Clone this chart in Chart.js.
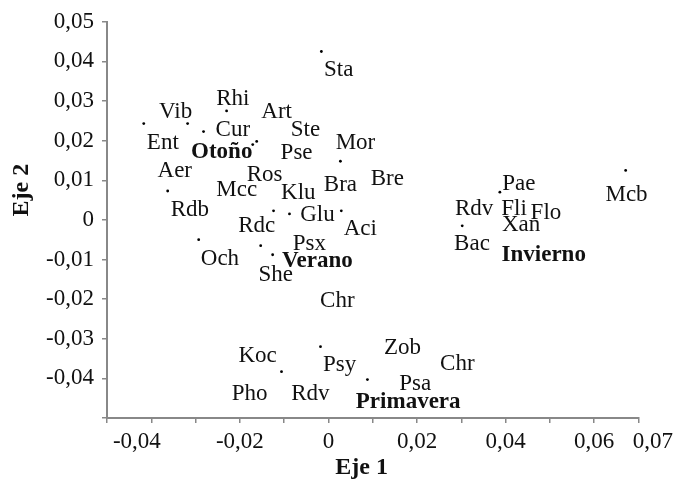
<!DOCTYPE html>
<html>
<head>
<meta charset="utf-8">
<script src="https://cdn.jsdelivr.net/npm/chart.js@4.4.1/dist/chart.umd.min.js"></script>
<style>
  html, body { margin: 0; padding: 0; background: #fff; }
</style>
</head>
<body>
<canvas id="chart" width="678" height="484"></canvas>
<script>
// Puntos (muestras)
const dotX = [-0.0417, -0.0318, -0.0282, -0.0230, -0.0171, -0.0162, -0.0016, -0.0363, -0.0124, -0.0088,
              -0.0293, -0.0153, -0.0126, -0.0018, -0.0106, 0.0027, 0.0029, 0.0387, 0.0302, 0.0671, 0.0088];
const dotY = [0.0243, 0.0243, 0.0223, 0.0275, 0.0190, 0.0198, 0.0425, 0.0073, 0.0023, 0.0015,
              -0.0050, -0.0065, -0.0088, -0.0320, -0.0383, 0.0148, 0.0023, 0.0070, -0.0015, 0.0125, -0.0403];

// Etiquetas (especies y estaciones)
const labelNames = ['Sta', 'Rhi', 'Vib', 'Art', 'Cur', 'Ste', 'Ent', 'Otoño', 'Pse', 'Mor',
                    'Aer', 'Ros', 'Bre', 'Bra', 'Mcc', 'Klu', 'Rdb', 'Glu', 'Rdc', 'Aci',
                    'Psx', 'Och', 'Verano', 'She', 'Chr', 'Mcb', 'Pae', 'Rdv', 'Fli', 'Flo',
                    'Xan', 'Bac', 'Invierno', 'Koc', 'Zob', 'Psy', 'Chr', 'Pho', 'Rdv', 'Psa', 'Primavera'];
const labelX = [0.0023, -0.0216, -0.0345, -0.0117, -0.0216, -0.0052, -0.0374, -0.0241, -0.0072, 0.0061,
                -0.0347, -0.0144, 0.0133, 0.0027, -0.0207, -0.0068, -0.0313, -0.0025, -0.0162, 0.0072,
                -0.0043, -0.0245, -0.0025, -0.0119, 0.0020, 0.0673, 0.0430, 0.0329, 0.0419, 0.0491,
                0.0435, 0.0324, 0.0486, -0.0160, 0.0167, 0.0025, 0.0291, -0.0178, -0.0041, 0.0196, 0.0180];
const labelY = [0.0378, 0.0305, 0.0273, 0.0273, 0.0228, 0.0228, 0.0195, 0.0170, 0.0168, 0.0193,
                0.0123, 0.0113, 0.0103, 0.0088, 0.0075, 0.0068, 0.0025, 0.0013, -0.0015, -0.0023,
                -0.0060, -0.0098, -0.0105, -0.0138, -0.0205, 0.0063, 0.0090, 0.0028, 0.0028, 0.0018,
                -0.0013, -0.0060, -0.0088, -0.0343, -0.0323, -0.0365, -0.0363, -0.0440, -0.0440, -0.0415, -0.0460];
const seasons = ['Otoño', 'Verano', 'Invierno', 'Primavera'];

// Ticks
const xTickLabels = [-0.04, -0.02, 0, 0.02, 0.04, 0.06, 0.07];
const yTickLabels = [-0.04, -0.03, -0.02, -0.01, 0, 0.01, 0.02, 0.03, 0.04, 0.05];

const serif = 'Liberation Serif';

function fmt(v) {
    return String(Math.round(v * 100) / 100).replace('.', ',');
}
function hasTick(list, v) {
    return list.some(t => Math.round(t * 100) === Math.round(v * 100));
}
// en el original la primera y la última etiqueta del eje X están desplazadas
function xLabel(v) {
    if (!hasTick(xTickLabels, v)) return '';
    const k = Math.round(v * 100);
    if (k === -4) return fmt(v) + '     ';
    if (k === 7) return '     ' + fmt(v);
    return fmt(v);
}

// Dibujar etiquetas y títulos de ejes
const labelsPlugin = {
    id: 'labels',
    afterDatasetsDraw(chart) {
        const c = chart.ctx;
        const xs = chart.scales.x, ys = chart.scales.y;
        c.save();
        c.fillStyle = '#111';
        c.textAlign = 'center';
        c.textBaseline = 'middle';
        labelNames.forEach((name, i) => {
            const bold = seasons.includes(name);
            c.font = (bold ? 'bold ' : '') + '23px "' + serif + '"';
            c.fillText(name, xs.getPixelForValue(labelX[i]), ys.getPixelForValue(labelY[i]));
        });
        // títulos
        c.font = 'bold 24px "' + serif + '"';
        c.fillText('Eje 1', xs.getPixelForValue(0.0075), 468);
        c.translate(22, ys.getPixelForValue(0.0075));
        c.rotate(-Math.PI / 2);
        c.fillText('Eje 2', 0, 0);
        c.restore();
    }
};

const axisColor = '#888';
const ctx = document.getElementById('chart').getContext('2d');
const chart = new Chart(ctx, {
    type: 'scatter',
    data: {
        datasets: [{
            data: dotX.map((x, i) => ({ x: x, y: dotY[i] })),
            pointRadius: 1.4,
            pointBackgroundColor: '#000',
            pointBorderWidth: 0
        }]
    },
    options: {
        responsive: false,
        animation: false,
        layout: { padding: { top: 18, right: 38, left: 0, bottom: 0 } },
        plugins: {
            legend: { display: false },
            tooltip: { enabled: false }
        },
        scales: {
            x: {
                type: 'linear',
                min: -0.05,
                max: 0.07,
                afterFit: s => { s.height = 66; },
                border: { color: axisColor, width: 2 },
                grid: { drawOnChartArea: false, drawTicks: true, tickLength: 5, color: axisColor, lineWidth: 1.5 },
                ticks: {
                    stepSize: 0.01,
                    autoSkip: false,
                    maxRotation: 0,
                    padding: 5,
                    color: '#111',
                    font: { family: serif, size: 23 },
                    callback: v => xLabel(v)
                }
            },
            y: {
                type: 'linear',
                min: -0.05,
                max: 0.05,
                afterFit: s => { s.width = 107; },
                border: { color: axisColor, width: 2 },
                grid: { drawOnChartArea: false, drawTicks: true, tickLength: 5, color: axisColor, lineWidth: 1.5 },
                ticks: {
                    stepSize: 0.01,
                    autoSkip: false,
                    padding: 8,
                    color: '#111',
                    font: { family: serif, size: 23 },
                    callback: v => hasTick(yTickLabels, v) ? fmt(v) : ''
                }
            }
        }
    },
    plugins: [labelsPlugin]
});
</script>
</body>
</html>
